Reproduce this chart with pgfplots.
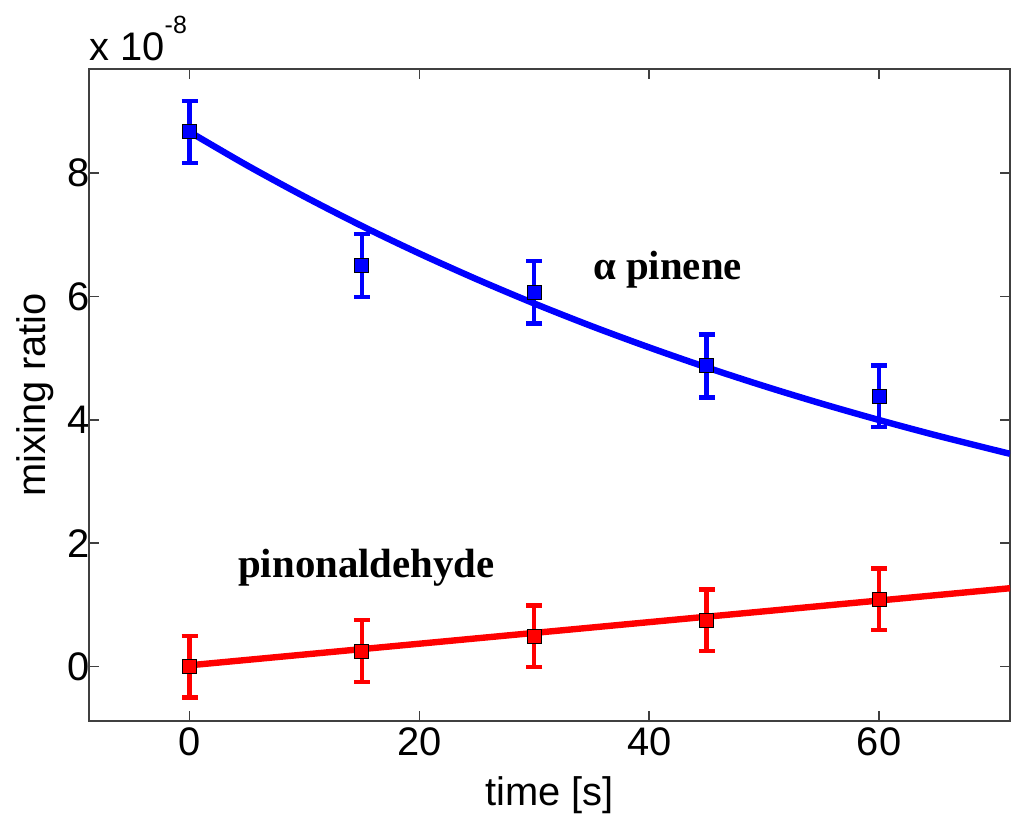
\documentclass[border=0pt]{standalone}
\usepackage{pgfplots}
\pgfplotsset{compat=1.18}
\usepackage{fontspec}
\setmainfont{Liberation Sans}
\newfontfamily\serifbf{Liberation Serif}
\begin{document}
\begin{tikzpicture}
\useasboundingbox (-44.5bp,-52.5bp) rectangle (467.5bp,360.4bp);
\begin{axis}[
  scale only axis, width=460.5bp, height=325.9bp,
  xmin=-8.75, xmax=71.4, ymin=-0.88, ymax=9.69,
  xtick={0,20,40,60}, ytick={0,2,4,6,8},
  tick align=inside, major tick length=5bp,
  axis line style={draw=black!75, line width=0.75bp},
  every tick/.style={black!75, line width=0.75bp},
  tick label style={font=\fontsize{20}{24}\selectfont},
  /pgf/number format/assume math mode=true,
  yticklabel style={xshift=4bp},
  label style={font=\fontsize{20}{24}\selectfont},
  xlabel={time [s]}, ylabel={mixing ratio},
  xlabel style={at={(axis description cs:0.5,0)}, anchor=base, yshift=-42.2bp},
  ylabel style={at={(axis description cs:0,0.5)}, anchor=center, yshift=27bp},
  clip mode=individual,
]
% fitted curves
\addplot[blue, line width=3.2bp, smooth] coordinates {
(0,8.67) (5,8.128) (10,7.621) (15,7.144) (20,6.698) (25,6.280) (30,5.887)
(35,5.519) (40,5.175) (45,4.851) (50,4.548) (55,4.264) (60,3.998)
(65,3.748) (70,3.514) (71.4,3.45)};
\addplot[red, line width=3.2bp] coordinates {(0,0.02) (71.4,1.27)};
% data with error bars
\addplot[blue, line width=2.2bp, only marks, mark=square*, mark size=3.5bp,
  mark options={fill=blue, draw=black, line width=0.5bp},
  error bars/.cd, y dir=both, y explicit,
  error bar style={line width=2.2bp, blue},
  error mark options={rotate=90, mark size=4bp, line width=2.2bp, blue}]
coordinates {
(0,8.67) +- (0,0.5)
(15,6.50) +- (0,0.51)
(30,6.07) +- (0,0.51)
(45,4.875) +- (0,0.51)
(60,4.38) +- (0,0.5)
};
\addplot[red, line width=2.2bp, only marks, mark=square*, mark size=3.5bp,
  mark options={fill=red, draw=black, line width=0.5bp},
  error bars/.cd, y dir=both, y explicit,
  error bar style={line width=2.2bp, red},
  error mark options={rotate=90, mark size=4bp, line width=2.2bp, red}]
coordinates {
(0,0.0) +- (0,0.5)
(15,0.25) +- (0,0.5)
(30,0.49) +- (0,0.5)
(45,0.75) +- (0,0.5)
(60,1.09) +- (0,0.5)
};
\node[font=\serifbf\bfseries\fontsize{20.5}{24}\selectfont] at (axis cs:41.6,6.43) {α pinene};
\node[font=\serifbf\bfseries\fontsize{20.5}{24}\selectfont] at (axis cs:15.4,1.6) {pinonaldehyde};
\end{axis}
\node[anchor=base west, inner sep=0, font=\fontsize{20}{24}\selectfont] at ([yshift=4.2bp]current axis.north west) {x 10\raisebox{13.5bp}{\fontsize{12.5}{14}\selectfont -8}};
\end{tikzpicture}
\end{document}
